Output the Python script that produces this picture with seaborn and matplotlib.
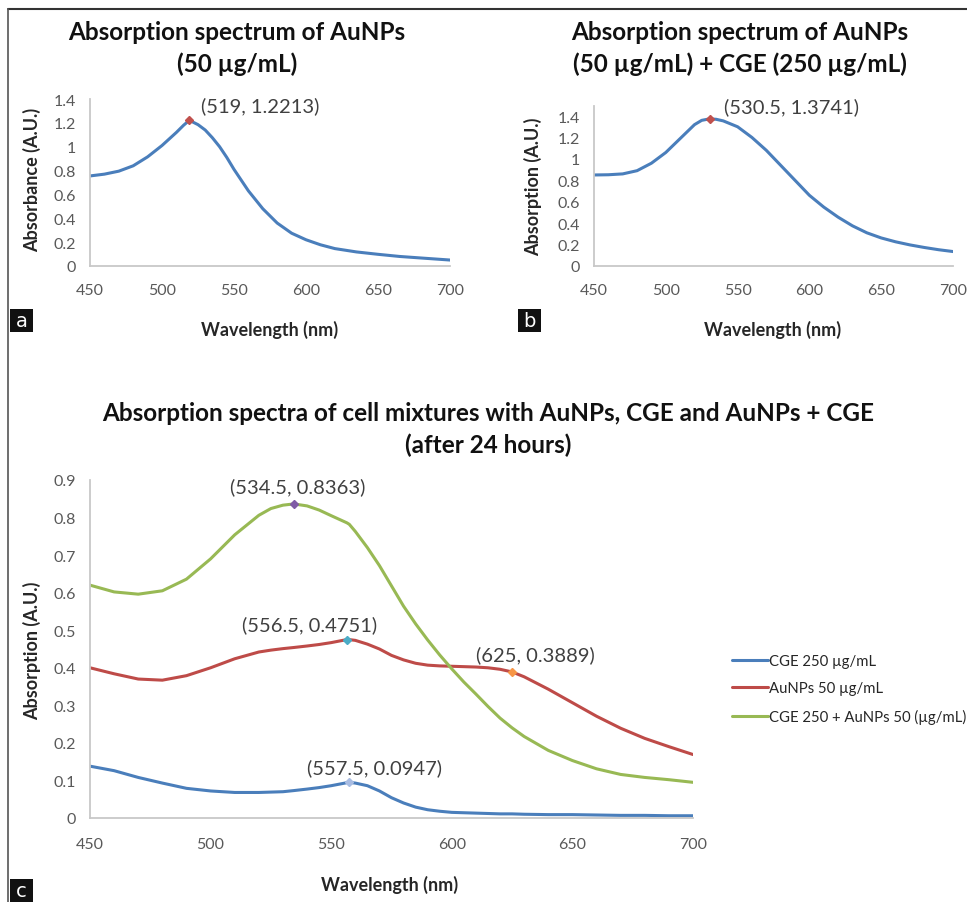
import numpy as np
import pandas as pd
import seaborn as sns
import matplotlib
matplotlib.use("Agg")
import matplotlib.pyplot as plt
from matplotlib.lines import Line2D

sns.set_style("white")
plt.rcParams['font.family'] = ['Lato', 'DejaVu Sans']

# ---------------- data ----------------
# Panel a: AuNPs 50 ug/mL
a_wl = [450, 460, 470, 480, 490, 500, 510, 515, 519, 525, 530, 535, 540, 545, 550, 555, 560, 570, 580, 590,
        600, 610, 620, 635, 650, 665, 680, 700]
a_abs = [0.755, 0.77, 0.795, 0.84, 0.915, 1.01, 1.12, 1.18, 1.2213, 1.185, 1.14, 1.075, 1.00, 0.91, 0.81, 0.72,
         0.63, 0.48, 0.36, 0.275, 0.22, 0.178, 0.146, 0.118, 0.098, 0.08, 0.067, 0.05]
a_peak = (519, 1.2213)

# Panel b: AuNPs 50 + CGE 250
b_wl = [450, 460, 470, 480, 490, 500, 510, 520, 525, 530.5, 535, 540, 550, 560, 570, 580, 590, 600, 610, 620,
        630, 640, 650, 660, 670, 680, 690, 700]
b_abs = [0.85, 0.852, 0.86, 0.89, 0.96, 1.06, 1.19, 1.32, 1.36, 1.3741, 1.37, 1.355, 1.30, 1.20, 1.08, 0.94,
         0.80, 0.66, 0.55, 0.456, 0.375, 0.31, 0.262, 0.226, 0.197, 0.173, 0.152, 0.135]
b_peak = (530.5, 1.3741)

# Panel c
c_wl = [450, 460, 470, 480, 490, 500, 510, 520, 525, 530, 534.5, 540, 545, 550, 556.5, 557.5, 560, 565, 570, 575,
        580, 585, 590, 595, 600, 605, 610, 615, 620, 625, 630, 640, 650, 660, 670, 680, 690, 700]
cge = [0.138, 0.126, 0.108, 0.093, 0.079, 0.072, 0.068, 0.068, 0.069, 0.070, 0.073, 0.077, 0.081, 0.086, 0.094, 0.0947,
       0.093, 0.086, 0.072, 0.054, 0.040, 0.029, 0.022, 0.018, 0.015, 0.014, 0.013, 0.012, 0.011, 0.011, 0.010,
       0.009, 0.009, 0.008, 0.007, 0.007, 0.006, 0.006]
aunps = [0.400, 0.384, 0.370, 0.367, 0.379, 0.400, 0.424, 0.442, 0.447, 0.451, 0.454, 0.458, 0.462, 0.467, 0.4751,
         0.475, 0.473, 0.463, 0.450, 0.433, 0.421, 0.412, 0.407, 0.405, 0.404, 0.403, 0.402, 0.400, 0.396, 0.3889,
         0.376, 0.343, 0.307, 0.271, 0.239, 0.212, 0.190, 0.169]
mix = [0.620, 0.602, 0.596, 0.605, 0.636, 0.690, 0.754, 0.806, 0.824, 0.833, 0.8363, 0.831, 0.820, 0.805, 0.786,
       0.782, 0.763, 0.720, 0.672, 0.618, 0.564, 0.517, 0.474, 0.434, 0.397, 0.362, 0.330, 0.297, 0.266, 0.240,
       0.217, 0.180, 0.153, 0.131, 0.116, 0.108, 0.102, 0.095]
c_names = ["CGE 250 \u00b5g/mL", "AuNPs 50 \u00b5g/mL", "CGE 250 + AuNPs 50 (\u00b5g/mL)"]
c_colors = ["#4a7ebb", "#be4b48", "#98b954"]
c_points = [(557.5, 0.0947), (556.5, 0.4751), (625, 0.3889), (534.5, 0.8363)]
c_point_colors = ["#a9bde3", "#4bacc6", "#f79646", "#7f5ba6"]
c_point_offsets = [(25, 15), (-37, 15), (23, 18), (4, 18)]

xticks = [450, 500, 550, 600, 650, 700]

# ---------------- figure ----------------
W, H = 967, 903
fig = plt.figure(figsize=(W / 100, H / 100), dpi=100)

def fx(px):
    return px / W

def fy(py):
    return 1 - py / H

TICK_COLOR = "#595959"
SPINE_COLOR = "#c8c8c8"
ANN_COLOR = "#404040"
ANN_SIZE = 14.5

def style_axis(ax, ylim, yticks, ylabels):
    ax.set_xlim(450, 700)
    ax.set_ylim(*ylim)
    ax.set_xticks(xticks)
    ax.set_yticks(yticks)
    ax.set_yticklabels(ylabels)
    ax.tick_params(axis='both', length=0, colors=TICK_COLOR, labelsize=11.5)
    ax.tick_params(axis='x', pad=12)
    ax.tick_params(axis='y', pad=10)
    for s in ['top', 'right']:
        ax.spines[s].set_visible(False)
    for s in ['left', 'bottom']:
        ax.spines[s].set_color(SPINE_COLOR)
        ax.spines[s].set_linewidth(1.3)
    ax.set_xlabel("")
    ax.set_ylabel("")
    ax.grid(False)

# Panel a
ax_a = fig.add_axes([fx(90), fy(267), fx(450) - fx(90), fy(100) - fy(267)])
sns.lineplot(x=a_wl, y=a_abs, ax=ax_a, color="#4a7ebb", linewidth=2.2)
ax_a.plot([a_peak[0]], [a_peak[1]], marker='D', color="#c0504d", markersize=4.5, linestyle='none')
ax_a.annotate("(519, 1.2213)", xy=a_peak, xytext=(71, 15), textcoords='offset pixels',
              ha='center', va='center', fontsize=ANN_SIZE, color=ANN_COLOR)
style_axis(ax_a, (0, 1.4), [0, 0.2, 0.4, 0.6, 0.8, 1.0, 1.2, 1.4],
           ["0", "0.2", "0.4", "0.6", "0.8", "1", "1.2", "1.4"])

# Panel b
ax_b = fig.add_axes([fx(594), fy(267), fx(953) - fx(594), fy(107) - fy(267)])
sns.lineplot(x=b_wl, y=b_abs, ax=ax_b, color="#4a7ebb", linewidth=2.2)
ax_b.plot([b_peak[0]], [b_peak[1]], marker='D', color="#c0504d", markersize=4.5, linestyle='none')
ax_b.annotate("(530.5, 1.3741)", xy=b_peak, xytext=(82, 13), textcoords='offset pixels',
              ha='center', va='center', fontsize=ANN_SIZE, color=ANN_COLOR)
style_axis(ax_b, (0, 1.494), [0, 0.2, 0.4, 0.6, 0.8, 1.0, 1.2, 1.4],
           ["0", "0.2", "0.4", "0.6", "0.8", "1", "1.2", "1.4"])

# Panel c
ax_c = fig.add_axes([fx(90), fy(819), fx(693) - fx(90), fy(481) - fy(819)])
df_c = pd.DataFrame({"Wavelength": c_wl * 3,
                     "Absorption": cge + aunps + mix,
                     "Sample": [c_names[0]] * len(c_wl) + [c_names[1]] * len(c_wl) + [c_names[2]] * len(c_wl)})
sns.lineplot(data=df_c, x="Wavelength", y="Absorption", hue="Sample", hue_order=c_names,
             palette=c_colors, ax=ax_c, linewidth=2.2, legend=False)
for (px, py), col, off in zip(c_points, c_point_colors, c_point_offsets):
    ax_c.plot([px], [py], marker='D', color=col, markersize=4.5, linestyle='none')
    ax_c.annotate(f"({px:g}, {py:g})", xy=(px, py), xytext=off, textcoords='offset pixels',
                  ha='center', va='center', fontsize=ANN_SIZE, color=ANN_COLOR)
style_axis(ax_c, (0, 0.9), [0, 0.1, 0.2, 0.3, 0.4, 0.5, 0.6, 0.7, 0.8, 0.9],
           ["0", "0.1", "0.2", "0.3", "0.4", "0.5", "0.6", "0.7", "0.8", "0.9"])
ax_c.tick_params(axis='x', pad=14)
handles = [Line2D([0], [0], color=c, linewidth=2.2) for c in c_colors]
ax_c.legend(handles, c_names, loc='center left', bbox_to_anchor=(fx(732), fy(690)),
            bbox_transform=fig.transFigure, frameon=False, fontsize=10.7, handlelength=2.4,
            handletextpad=0.12, labelspacing=0.9, borderpad=0, borderaxespad=0, labelcolor="#262626")

# Titles
TITLE_KW = dict(ha='center', va='center', fontsize=17.5, fontweight='bold', color="#111111")
fig.text(fx(237), fy(33), "Absorption spectrum of AuNPs", **TITLE_KW)
fig.text(fx(237), fy(64), "(50 \u00b5g/mL)", **TITLE_KW)
fig.text(fx(740), fy(33), "Absorption spectrum of AuNPs", **TITLE_KW)
fig.text(fx(740), fy(64), "(50 \u00b5g/mL) + CGE (250 \u00b5g/mL)", **TITLE_KW)
fig.text(fx(488), fy(414), "Absorption spectra of cell mixtures with AuNPs, CGE and AuNPs + CGE", **TITLE_KW)
fig.text(fx(488), fy(445), "(after 24 hours)", **TITLE_KW)

# Axis labels
LBL_KW = dict(ha='center', va='center', fontsize=13, fontweight='bold', color="#262626")
fig.text(fx(270), fy(330), "Wavelength (nm)", **LBL_KW)
fig.text(fx(773), fy(330), "Wavelength (nm)", **LBL_KW)
fig.text(fx(390), fy(885), "Wavelength (nm)", **LBL_KW)
fig.text(fx(32), fy(180), "Absorbance (A.U.)", rotation=90, **LBL_KW)
fig.text(fx(533), fy(187), "Absorption (A.U.)", rotation=90, **LBL_KW)
fig.text(fx(32), fy(651), "Absorption (A.U.)", rotation=90, **LBL_KW)

# Panel letters
for letter, (px, py) in zip(["a", "b", "c"], [(10, 310), (518, 310), (10, 880)]):
    fig.patches.append(matplotlib.patches.Rectangle((fx(px), fy(py + 23)), 23 / W, 23 / H,
                                                    transform=fig.transFigure, facecolor="#111111",
                                                    edgecolor='none', zorder=5))
    fig.text(fx(px + 11.5), fy(py + 12), letter, ha='center', va='center', fontsize=14,
             color='white', zorder=6, family=['DejaVu Sans'])

# Border lines
fig.add_artist(Line2D([fx(8), 1.0], [fy(10), fy(10)], transform=fig.transFigure, color="#333333", linewidth=1.5))
fig.add_artist(Line2D([fx(8), fx(8)], [fy(10), 0.0], transform=fig.transFigure, color="#555555", linewidth=1.2))

fig.savefig("out.png", dpi=100)
